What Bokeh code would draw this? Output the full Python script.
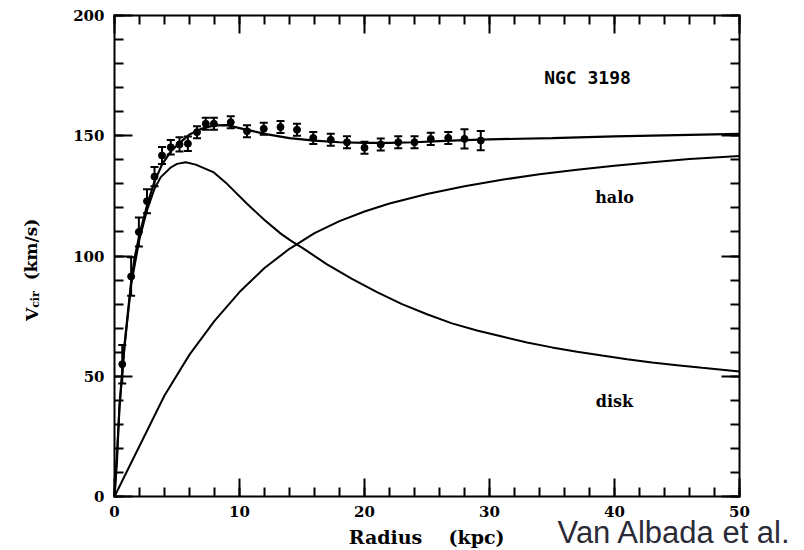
import numpy as np
from bokeh.plotting import figure
from bokeh.models import (Range1d, LinearAxis, SingleIntervalTicker, Label,
                          ColumnDataSource, Whisker, TeeHead)
from bokeh.embed import file_html
from bokeh.resources import INLINE

# ---- data ----
r_obs = [0.62, 1.33, 1.95, 2.6, 3.2, 3.8, 4.5, 5.2, 5.87, 6.6, 7.3, 7.95, 9.3, 10.6,
         11.94, 13.28, 14.6, 15.9, 17.3, 18.6, 20.0, 21.3, 22.7, 24.0, 25.3, 26.7, 28.0, 29.3]
v_obs = [55, 91.5, 110, 122.8, 133, 141.8, 145.2, 146.4, 146.7, 151.5, 155, 155, 155.6, 151.9,
         152.9, 153.6, 152.5, 149.1, 148.3, 147.3, 145, 146.4, 147.3, 147.3, 148.7, 149.1, 148.7, 148]
v_err = [8, 8, 6, 5, 4, 3.5, 3, 3, 3, 2.5, 2.5, 2.5, 2.5, 2.5,
         2.5, 2.5, 2.5, 2.5, 2.5, 2.5, 2.5, 2.5, 2.5, 2.5, 2.5, 2.5, 4, 4]

r_total = [0, 0.2, 0.4, 0.62, 0.8, 1.0, 1.33, 1.6, 2.0, 2.6, 3.2, 3.8, 4.5, 5.2, 6.0, 7.0, 8.0,
           9.0, 10.0, 11.0, 12.0, 14.0, 16.0, 18.0, 20.0, 22.0, 24.0, 26.0, 28.0, 30.0, 35.0,
           40.0, 45.0, 50.0]
v_total = [0, 15, 38, 52, 63, 73, 89, 99, 109, 121, 131, 138, 143.5, 147, 150.5, 153, 154.3,
           154.4, 153.2, 152, 150.8, 149, 148, 147.3, 147, 147, 147.3, 147.8, 148.2, 148.5, 149,
           149.7, 150.3, 150.8]

r_disk = [0, 0.4, 0.8, 1.33, 2.0, 2.6, 3.2, 3.7, 4.5, 5.0, 5.7, 6.5, 7.9, 9.0, 10.6, 12.0, 13.3,
          14.1, 15.0, 17.0, 19.0, 21.0, 23.0, 25.0, 27.0, 29.0, 31.0, 33.0, 35.0, 37.0, 39.0,
          41.0, 43.0, 45.0, 47.0, 50.0]
v_disk = [0, 37, 62, 88, 107, 119, 128, 132.8, 136.8, 138.3, 139, 138, 134.9, 130, 121.7, 115,
          109.3, 106.4, 103.5, 96.5, 90.5, 85, 80, 75.8, 72, 69, 66.5, 64, 62, 60.2, 58.6,
          57.1, 55.7, 54.6, 53.5, 52]

r_halo = [0, 2, 4, 6, 8, 10, 12, 14, 16, 18, 20, 22, 25, 28, 31, 34, 37, 40, 43, 46, 50]
v_halo = [0, 21, 42, 59, 73, 85, 95, 103, 109.5, 114.5, 118.5, 121.8, 125.8, 129, 131.7,
          134, 135.9, 137.5, 139, 140.3, 141.6]

x_lo, x_hi = 0, 50
y_lo, y_hi = 0, 200

# ---- layout geometry (pixels): plot box from (114, 15) to (739, 496) ----
W, H = 804, 550
BX0, BX1, BY0, BY1 = 114, 739, 15, 496
sx = (BX1 - BX0) / (x_hi - x_lo)
sy = (BY1 - BY0) / (y_hi - y_lo)


def R(px):
    return x_lo + (px - BX0) / sx


def V(py):
    return y_lo + (BY1 - py) / sy


p = figure(width=W, height=H, output_backend="svg", toolbar_location=None,
           x_range=Range1d(R(0), R(W)), y_range=Range1d(V(H), V(0)),
           x_axis_type=None, y_axis_type=None, min_border=0)
p.grid.visible = False
p.background_fill_color = "white"
p.border_fill_color = "white"
p.outline_line_color = None


def make_axis(interval, loc, bounds, labels):
    ax = LinearAxis(ticker=SingleIntervalTicker(interval=interval, num_minor_ticks=5),
                    fixed_location=loc, bounds=bounds)
    ax.axis_line_width = 2
    ax.axis_line_color = "black"
    ax.axis_line_cap = "square"
    ax.major_tick_in = 18
    ax.major_tick_out = 0
    ax.minor_tick_in = 9
    ax.minor_tick_out = 0
    ax.major_tick_line_width = 2
    ax.minor_tick_line_width = 2
    ax.major_tick_line_color = "black"
    ax.minor_tick_line_color = "black"
    if labels:
        ax.major_label_text_font = "DejaVu Serif"
        ax.major_label_text_font_style = "bold"
        ax.major_label_text_font_size = "15px"
        ax.major_label_text_color = "black"
    else:
        ax.major_label_text_font_size = "0px"
        ax.major_label_text_color = None
        ax.major_label_standoff = 0
    return ax


bottom = make_axis(10, y_lo, (x_lo, x_hi), True)
bottom.major_label_standoff = 9
left = make_axis(50, x_lo, (y_lo, y_hi), True)
left.major_label_standoff = 10
top = make_axis(10, y_hi, (x_lo, x_hi), False)
right = make_axis(50, x_hi, (y_lo, y_hi), False)
p.add_layout(bottom, "below")
p.add_layout(left, "left")
p.add_layout(top, "above")
p.add_layout(right, "right")

# curves
p.line(r_total, v_total, line_color="black", line_width=2.2)
p.line(r_disk, v_disk, line_color="black", line_width=2)
p.line(r_halo, v_halo, line_color="black", line_width=2)

# observations with error bars
src = ColumnDataSource(dict(r=r_obs, v=v_obs,
                            lo=[v - e for v, e in zip(v_obs, v_err)],
                            hi=[v + e for v, e in zip(v_obs, v_err)]))
p.add_layout(Whisker(base="r", lower="lo", upper="hi", source=src,
                     line_color="black", line_width=2,
                     lower_head=TeeHead(size=8, line_width=2, line_color="black"),
                     upper_head=TeeHead(size=8, line_width=2, line_color="black")))
p.scatter("r", "v", source=src, size=7, color="black")


def add_text(px, py, text, font, size, style="bold", color="black", align="center",
             baseline="middle", angle=0.0):
    p.add_layout(Label(x=R(px), y=V(py), text=text, text_font=font, text_font_style=style,
                       text_font_size=size, text_align=align, text_baseline=baseline,
                       text_color=color, angle=angle))


# in-plot texts
add_text(587, 77, "NGC 3198", "DejaVu Sans Mono", "18px")
add_text(614, 197, "halo", "DejaVu Serif", "16px")
add_text(614, 401, "disk", "DejaVu Serif", "16px")

# y-axis title (rotated, with subscript)
add_text(31, 314, "V", "DejaVu Serif", "17px", angle=np.pi / 2)
add_text(35, 299, "cir", "DejaVu Serif", "11px", angle=np.pi / 2)
add_text(30, 249, "(km/s)", "DejaVu Serif", "17px", angle=np.pi / 2)

# x-axis title
add_text(385, 536, "Radius", "DejaVu Serif", "19px")
add_text(476, 536, "(kpc)", "DejaVu Serif", "19px")

# credit
add_text(557, 532, "Van Albada et al.", "Liberation Sans", "31px", style="normal",
         color="#2b2b38", align="left")

open("out.html", "w").write(file_html(p, INLINE))
